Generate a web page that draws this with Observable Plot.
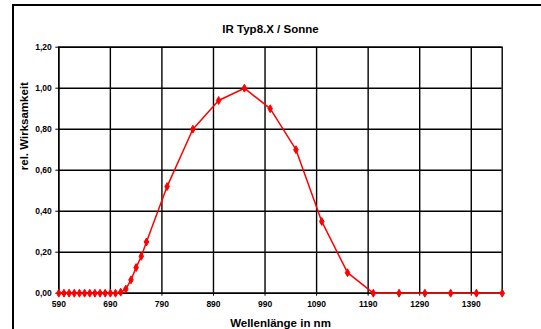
<!DOCTYPE html>
<html>
<head>
<meta charset="utf-8">
<script src="https://cdn.jsdelivr.net/npm/d3@7"></script>
<script src="https://cdn.jsdelivr.net/npm/@observablehq/plot@0.6"></script>
<style>
  html, body { margin: 0; padding: 0; background: #fff; }
  #wrap { position: relative; width: 541px; height: 329px; overflow: hidden; }
  #border { position: absolute; left: 12px; top: 4px; width: 600px; height: 400px;
            border-left: 2px solid #000; border-top: 2px solid #000; box-sizing: border-box; }
  #chart { position: absolute; left: 0; top: 0; }
</style>
</head>
<body>
<div id="wrap"><div id="border"></div><div id="chart"></div></div>
<script>
const title = "IR Typ8.X / Sonne";
const xLabel = "Wellenlänge in nm";
const yLabel = "rel. Wirksamkeit";
const wavelengths = [590, 600, 610, 620, 630, 640, 650, 660, 670, 680, 690, 700, 710, 720, 730, 740, 750, 760,
  800, 850, 900, 950, 1000, 1050, 1100, 1150, 1200, 1250, 1300, 1350, 1400, 1450];
const values = [0, 0, 0, 0, 0, 0, 0, 0, 0, 0, 0, 0, 0.005, 0.02, 0.065, 0.125, 0.18, 0.25,
  0.52, 0.80, 0.94, 1.00, 0.90, 0.70, 0.35, 0.10, 0, 0, 0, 0, 0, 0];
const xTicks = [590, 690, 790, 890, 990, 1090, 1190, 1290, 1390];
const yTicks = [0, 0.2, 0.4, 0.6, 0.8, 1.0, 1.2];

const data = wavelengths.map((w, i) => ({w, v: values[i]}));
const fmt = d => d.toFixed(2).replace(".", ",");
const font = "'Liberation Sans', Arial, sans-serif";

const chart = Plot.plot({
  width: 541,
  height: 329,
  marginLeft: 58.3,
  marginRight: 39.3,
  marginTop: 46.7,
  marginBottom: 36.3,
  style: {fontFamily: font, fontWeight: "bold", color: "#000", background: "transparent"},
  x: {domain: [590, 1450]},
  y: {domain: [0, 1.2]},
  marks: [
    Plot.gridX(xTicks, {stroke: "#000", strokeOpacity: 1, strokeWidth: 1.4}),
    Plot.gridY(yTicks, {stroke: "#000", strokeOpacity: 1, strokeWidth: 1.4}),
    Plot.frame({stroke: "#000", strokeWidth: 1.4}),
    Plot.axisX(xTicks, {tickSize: 3, tickPadding: 5, fontSize: 8.5, label: null, tickFormat: d => String(d), stroke: "#000"}),
    Plot.axisY(yTicks, {tickSize: 3, tickPadding: 4, fontSize: 8.5, label: null, tickFormat: fmt, stroke: "#000"}),
    Plot.line(data, {x: "w", y: "v", stroke: "#ff0000", strokeWidth: 1.5}),
    Plot.dot(data, {x: "w", y: "v", symbol: "diamond", r: 2.4, fill: "#ff0000", stroke: "#ff0000", strokeWidth: 1}),
    Plot.text([title], {frameAnchor: "top", dx: -10, dy: -17.4, lineAnchor: "middle", fontSize: 11.5, fontWeight: "bold", fill: "#000"}),
    Plot.text([xLabel], {frameAnchor: "bottom", dy: 30.3, lineAnchor: "middle", fontSize: 11.5, fontWeight: "bold", fill: "#000"}),
    Plot.text([yLabel], {frameAnchor: "left", dx: -34.3, rotate: -90, lineAnchor: "middle", fontSize: 11.5, fontWeight: "bold", fill: "#000"})
  ]
});
document.getElementById("chart").appendChild(chart);
</script>
</body>
</html>
